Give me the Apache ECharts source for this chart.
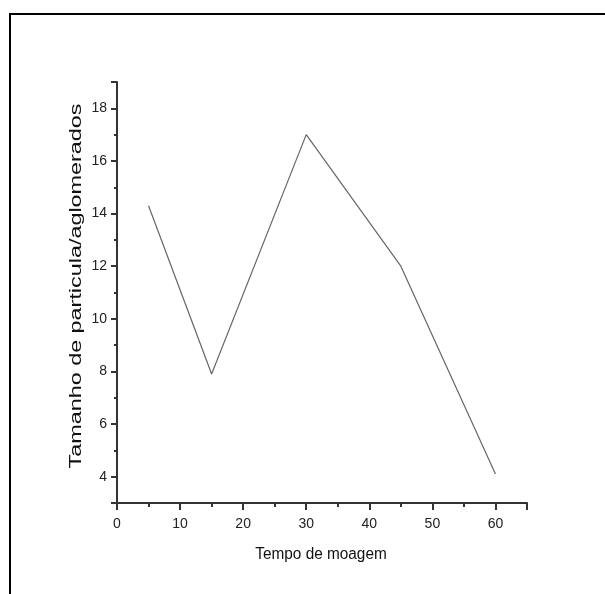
<!DOCTYPE html>
<html>
<head>
<meta charset="utf-8">
<script src="https://cdn.jsdelivr.net/npm/echarts@6/dist/echarts.min.js"></script>
<style>
  html, body { margin: 0; padding: 0; background: #fff; }
  #chart { width: 605px; height: 594px; }
</style>
</head>
<body>
<div id="chart"></div>
<script>
// Milling time vs particle/agglomerate size
const millTimes = [5, 15, 30, 45, 60];
const particleSizes = [14.3, 7.9, 17.0, 12.0, 4.1];

const xTitle = "Tempo de moagem";
const yTitle = "Tamanho de particula/aglomerados";

const axisColor = "#333";
const labelFont = "Liberation Sans, Arial, sans-serif";

const chart = echarts.init(document.getElementById("chart"));

// only the round ticks get a label, the axis ends stay bare
const evenOnly = (min, max) => (v) => (v === min || v === max) ? "" : String(v);

chart.setOption({
  animation: false,
  grid: { left: 117, top: 82, right: 78, bottom: 91 },
  xAxis: {
    type: "value",
    min: 0,
    max: 65,
    splitNumber: 7,
    minInterval: 10,
    maxInterval: 10,
    axisLine: { show: true, onZero: false, lineStyle: { color: axisColor, width: 2 } },
    axisTick: { show: true, inside: false, length: 7, lineStyle: { color: axisColor, width: 2 } },
    minorTick: { show: true, splitNumber: 2, length: 4, lineStyle: { color: axisColor, width: 2 } },
    axisLabel: {
      margin: 14, color: "#222", fontSize: 14, fontFamily: labelFont,
      formatter: evenOnly(-1, 65)
    },
    splitLine: { show: false }
  },
  yAxis: {
    type: "value",
    min: 3,
    max: 19,
    splitNumber: 8,
    minInterval: 2,
    maxInterval: 2,
    axisLine: { show: true, onZero: false, lineStyle: { color: axisColor, width: 2 } },
    axisTick: { show: true, inside: false, length: 6, lineStyle: { color: axisColor, width: 2 } },
    minorTick: { show: true, splitNumber: 2, length: 3, lineStyle: { color: axisColor, width: 2 } },
    axisLabel: {
      margin: 10, color: "#222", fontSize: 14, fontFamily: labelFont,
      formatter: evenOnly(3, 19)
    },
    splitLine: { show: false }
  },
  series: [{
    type: "line",
    data: millTimes.map((t, i) => [t, particleSizes[i]]),
    showSymbol: false,
    lineStyle: { color: "#666", width: 1.2 }
  }],
  graphic: [
    // frame lines of the original figure (top and left only)
    { type: "line", shape: { x1: 9, y1: 14, x2: 605, y2: 14 }, style: { stroke: "#000", lineWidth: 2 } },
    { type: "line", shape: { x1: 10, y1: 13, x2: 10, y2: 594 }, style: { stroke: "#000", lineWidth: 2 } },
    {
      type: "text", x: 77, y: 286, rotation: Math.PI / 2, scaleX: 1.46,
      style: { text: yTitle, font: "16px " + labelFont, fill: "#111", align: "center", verticalAlign: "middle" }
    },
    {
      type: "text", x: 321, y: 555, scaleX: 0.96,
      style: { text: xTitle, font: "16px " + labelFont, fill: "#111", align: "center", verticalAlign: "middle" }
    }
  ]
});
</script>
</body>
</html>
